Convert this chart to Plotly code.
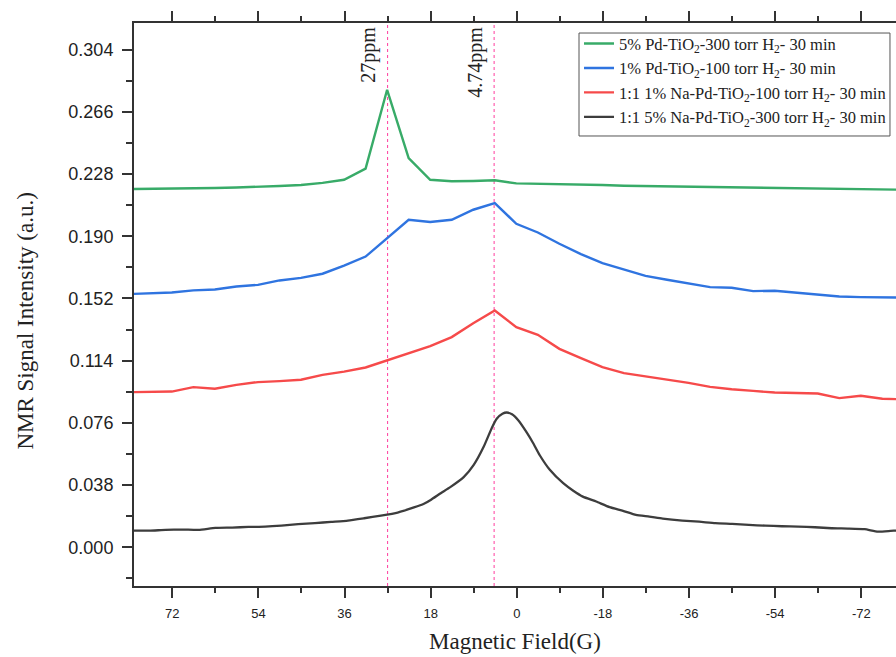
import plotly.graph_objects as go

# Field positions (G) of the coarse scans
X_SCAN = [81.1, 76.6, 72.1, 67.6, 63.1, 58.6, 54.1, 49.6, 45.1, 40.6, 36.1, 31.6,
          27.1, 22.6, 18.1, 13.6, 9.1, 4.6, 0.1, -4.4, -8.9, -13.4, -17.9, -22.4,
          -26.9, -31.4, -35.9, -40.4, -44.9, -49.4, -53.9, -58.4, -62.9, -67.4,
          -71.9, -76.4, -80.9]

PD5_300 = [0.2188, 0.2189, 0.2190, 0.2192, 0.2195, 0.2198, 0.2201, 0.2207, 0.2213,
           0.2226, 0.2245, 0.2313, 0.2795, 0.2378, 0.2245, 0.2236, 0.2238, 0.2242,
           0.2223, 0.2221, 0.2220, 0.2218, 0.2213, 0.2209, 0.2207, 0.2205, 0.2203,
           0.2201, 0.2198, 0.2196, 0.2195, 0.2193, 0.2192, 0.2190, 0.2188, 0.2185,
           0.2184]

PD1_100 = [0.1547, 0.1551, 0.1556, 0.1569, 0.1575, 0.1593, 0.1603, 0.1630, 0.1646,
           0.1671, 0.1720, 0.1776, 0.1889, 0.2001, 0.1987, 0.2001, 0.2062, 0.2103,
           0.1976, 0.1923, 0.1854, 0.1791, 0.1736, 0.1698, 0.1658, 0.1634, 0.1610,
           0.1589, 0.1585, 0.1565, 0.1567, 0.1556, 0.1542, 0.1532, 0.1528, 0.1526,
           0.1525]

NA_PD1_100 = [0.0947, 0.0948, 0.0951, 0.0978, 0.0968, 0.0992, 0.1009, 0.1015, 0.1023,
              0.1053, 0.1073, 0.1098, 0.1141, 0.1186, 0.1229, 0.1284, 0.1369, 0.1446,
              0.1345, 0.1298, 0.1212, 0.1155, 0.1100, 0.1064, 0.1044, 0.1026, 0.1004,
              0.0980, 0.0965, 0.0955, 0.0945, 0.0942, 0.0939, 0.0911, 0.0925, 0.0907,
              0.0904]

# Fine scan
X_FINE = [80.6, 76.8, 73.4, 69.9, 66.5, 63.0, 59.5, 56.1, 52.6, 49.2, 45.7, 42.2,
          38.8, 35.3, 31.9, 28.4, 24.9, 21.5, 19.4, 18.0, 15.9, 13.9, 11.1, 9.0,
          6.9, 5.2, 4.2, 3.0, 2.1, 1.0, -0.3, -2.1, -3.4, -4.8, -6.9, -9.7, -11.8,
          -13.8, -16.6, -19.4, -22.2, -24.9, -27.7, -30.5, -34.6, -38.1, -41.5,
          -45.0, -48.5, -51.9, -55.4, -58.8, -62.3, -65.8, -69.2, -72.7, -75.5,
          -78.8, -80.6]

NA_PD5_300 = [0.0101, 0.0101, 0.0106, 0.0108, 0.0106, 0.0118, 0.0120, 0.0124, 0.0126,
              0.0132, 0.0141, 0.0147, 0.0155, 0.0163, 0.0177, 0.0193, 0.0212, 0.0243,
              0.0266, 0.0289, 0.0330, 0.0367, 0.0428, 0.0503, 0.0615, 0.0730, 0.0785,
              0.0815, 0.0823, 0.0812, 0.0776, 0.0700, 0.0637, 0.0562, 0.0473, 0.0391,
              0.0345, 0.0309, 0.0279, 0.0245, 0.0222, 0.0197, 0.0187, 0.0175, 0.0163,
              0.0156, 0.0147, 0.0142, 0.0136, 0.0132, 0.0128, 0.0126, 0.0122, 0.0116,
              0.0114, 0.0110, 0.0095, 0.0101, 0.0100]

NAMES = [
    "5% Pd-TiO<sub>2</sub>-300 torr H<sub>2</sub>- 30 min",
    "1% Pd-TiO<sub>2</sub>-100 torr H<sub>2</sub>- 30 min",
    "1:1 1% Na-Pd-TiO<sub>2</sub>-100 torr H<sub>2</sub>- 30 min",
    "1:1 5% Na-Pd-TiO<sub>2</sub>-300 torr H<sub>2</sub>- 30 min",
]
COLORS = ["#38ab68", "#2f74e0", "#f64a4a", "#3d3d3d"]

Y_TICKS = [0.000, 0.038, 0.076, 0.114, 0.152, 0.190, 0.228, 0.266, 0.304]
X_TICKS = [72, 54, 36, 18, 0, -18, -36, -54, -72]

MARKERS = [(27.0, "27ppm"), (4.74, "4.74ppm")]

SERIF = "Liberation Serif, Times New Roman, serif"
SANS = "Liberation Sans, Arial, sans-serif"

fig = go.Figure()
series = [(X_SCAN, PD5_300), (X_SCAN, PD1_100), (X_SCAN, NA_PD1_100), (X_FINE, NA_PD5_300)]
for (xs, ys), name, col in zip(series, NAMES, COLORS):
    fine = xs is X_FINE
    fig.add_trace(go.Scatter(
        x=xs, y=ys, mode="lines", name=name,
        line=dict(color=col, width=2.3 if fine else 2.4,
                  shape="spline" if fine else "linear", smoothing=0.5),
    ))

# Dotted reference lines and their labels
for xv, label in MARKERS:
    fig.add_shape(type="line", xref="x", yref="paper", x0=xv, x1=xv, y0=0, y1=1,
                  line=dict(color="#ff3d9e", width=1, dash="dot"), layer="below")
    fig.add_annotation(x=xv, xref="x", y=0.997, yref="paper", text=label,
                       textangle=-90, showarrow=False, xanchor="right", yanchor="top",
                       xshift=-5, font=dict(family=SERIF, size=20, color="#222"))

# Legend frame
fig.add_shape(type="rect", xref="paper", yref="paper",
              x0=0.584, x1=0.9921, y0=0.7993, y1=0.9822,
              line=dict(color="#555", width=1), fillcolor="white", layer="above")

axis_common = dict(showline=True, linewidth=2, linecolor="#333", ticks="outside",
                   tickcolor="#333", tickwidth=1.5, ticklen=10, showgrid=False,
                   zeroline=False)

fig.update_xaxes(
    range=[80, -79.25], tickvals=X_TICKS, ticktext=[str(v) for v in X_TICKS],
    mirror="ticks", tickfont=dict(family=SANS, size=13, color="#222"),
    minor=dict(tickvals=[63, 45, 27, 9, -9, -27, -45, -63], ticklen=5,
               tickwidth=1.5, tickcolor="#333", ticks="outside"),
    ticklabelstandoff=4,
    **axis_common,
)
fig.update_yaxes(
    range=[-0.0237, 0.3203], tickvals=Y_TICKS,
    ticktext=[f"{v:.3f}" for v in Y_TICKS],
    tickfont=dict(family=SANS, size=18, color="#222"),
    minor=dict(tickvals=[-0.019, 0.019, 0.057, 0.095, 0.133, 0.171, 0.209, 0.247, 0.285],
               ticklen=6, tickwidth=1.5, tickcolor="#333", ticks="outside"),
    ticklabelstandoff=5,
    **axis_common,
)

fig.add_annotation(text="Magnetic Field(G)", xref="paper", yref="paper", x=0.5, y=-0.098,
                   showarrow=False, xanchor="center", yanchor="middle",
                   font=dict(family=SERIF, size=23, color="#222"))
fig.add_annotation(text="NMR Signal Intensity (a.u.)", xref="paper", yref="paper",
                   x=-0.142, y=0.471, textangle=-90, showarrow=False,
                   xanchor="center", yanchor="middle",
                   font=dict(family=SERIF, size=23, color="#222"))

fig.update_layout(
    width=896, height=657,
    margin=dict(l=134, r=0, t=23, b=71),
    plot_bgcolor="white", paper_bgcolor="white",
    legend=dict(x=0.584, y=0.9942, xanchor="left", yanchor="top",
                bgcolor="rgba(0,0,0,0)", borderwidth=0,
                font=dict(family=SERIF, size=16.5, color="#222"),
                tracegroupgap=0, itemwidth=30),
    showlegend=True,
)

fig.write_html("out.html")
